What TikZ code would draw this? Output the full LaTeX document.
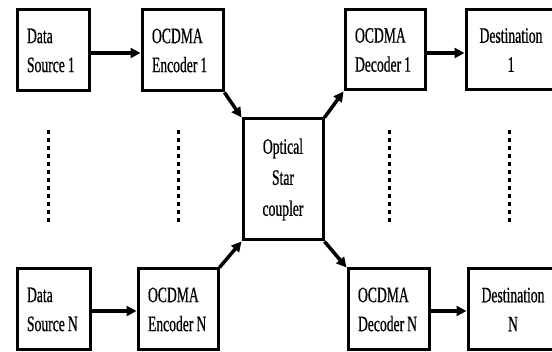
\documentclass[tikz,border=0pt]{standalone}
\usepackage{fontspec}
\newfontfamily\condserif[FakeStretch=0.62,FakeBold=0.6]{Liberation Serif}
\newcommand{\tsp}{\hspace{3pt}}
\usetikzlibrary{arrows.meta}
\begin{document}
\begin{tikzpicture}[x=1pt,y=-1pt,
  blk/.style={draw, line width=3pt, rectangle, inner xsep=0pt, inner ysep=0pt,
    font=\condserif\fontsize{22}{29}\selectfont},
  lblk/.style={blk, align=left},
  cblk/.style={blk, align=center},
  conn/.style={line width=3.5pt, -{Triangle[length=10pt,width=10pt]}},
  dots/.style={line width=3pt, dash pattern=on 4.5pt off 3.5pt}]
\useasboundingbox (0,0) rectangle (552,352);
\clip (0,0) rectangle (552,352);
% top row
\node[lblk, minimum width=72pt, minimum height=81pt, text width=62pt] (ds1) at (53,50.5) {\hspace*{5pt}Data\\\hspace*{5pt}Source\tsp1};
\node[lblk, minimum width=81pt, minimum height=81pt, text width=71pt] (enc1) at (182.5,50.5) {\hspace*{5pt}OCDMA\\\hspace*{5pt}Encoder\tsp1};
\node[lblk, minimum width=80pt, minimum height=80pt, text width=70pt] (dec1) at (385,50) {\hspace*{5pt}OCDMA\\\hspace*{5pt}Decoder\tsp1};
\node[cblk, minimum width=90pt, minimum height=80pt, text width=80pt] (dst1) at (511,50) {Destination\\1};
% star coupler
\node[cblk, minimum width=80pt, minimum height=121pt, text width=70pt, font=\condserif\fontsize{22}{31}\selectfont] (star) at (283,179.5) {Optical\\Star\\coupler};
% bottom row
\node[lblk, minimum width=73pt, minimum height=81pt, text width=63pt] (dsn) at (53.5,309.5) {\hspace*{5pt}Data\\\hspace*{5pt}Source\tsp N};
\node[lblk, minimum width=80pt, minimum height=81pt, text width=70pt] (encn) at (178,309.5) {\hspace*{5pt}OCDMA\\\hspace*{5pt}Encoder\tsp N};
\node[lblk, minimum width=81pt, minimum height=81pt, text width=71pt] (decn) at (388.5,309.5) {\hspace*{5pt}OCDMA\\\hspace*{5pt}Decoder\tsp N};
\node[cblk, minimum width=90pt, minimum height=81pt, text width=80pt] (dstn) at (513,309.5) {Destination\\N};
% connectors
\draw[conn] (ds1.east |- 0,53) -- (enc1.west |- 0,53);
\draw[conn] (dec1.east |- 0,53) -- (dst1.west |- 0,53);
\draw[conn] (dsn.east |- 0,311) -- (encn.west |- 0,311);
\draw[conn] (decn.east |- 0,311) -- (dstn.west |- 0,311);
\draw[conn] (enc1.south east) -- (star.north west);
\draw[conn] (star.north east) -- (dec1.south west);
\draw[conn] (encn.north east) -- (star.south west);
\draw[conn] (star.south east) -- (decn.north west);
% dotted continuation lines
\coordinate (d1t) at (48,130); \coordinate (d1b) at (48,224);
\coordinate (d2t) at (178,130); \coordinate (d2b) at (178,224);
\coordinate (d3t) at (389,130); \coordinate (d3b) at (389,224);
\coordinate (d4t) at (509,130); \coordinate (d4b) at (509,224);
\draw[dots] (d1t) -- (d1b);
\draw[dots] (d2t) -- (d2b);
\draw[dots] (d3t) -- (d3b);
\draw[dots] (d4t) -- (d4b);
\end{tikzpicture}
\end{document}
